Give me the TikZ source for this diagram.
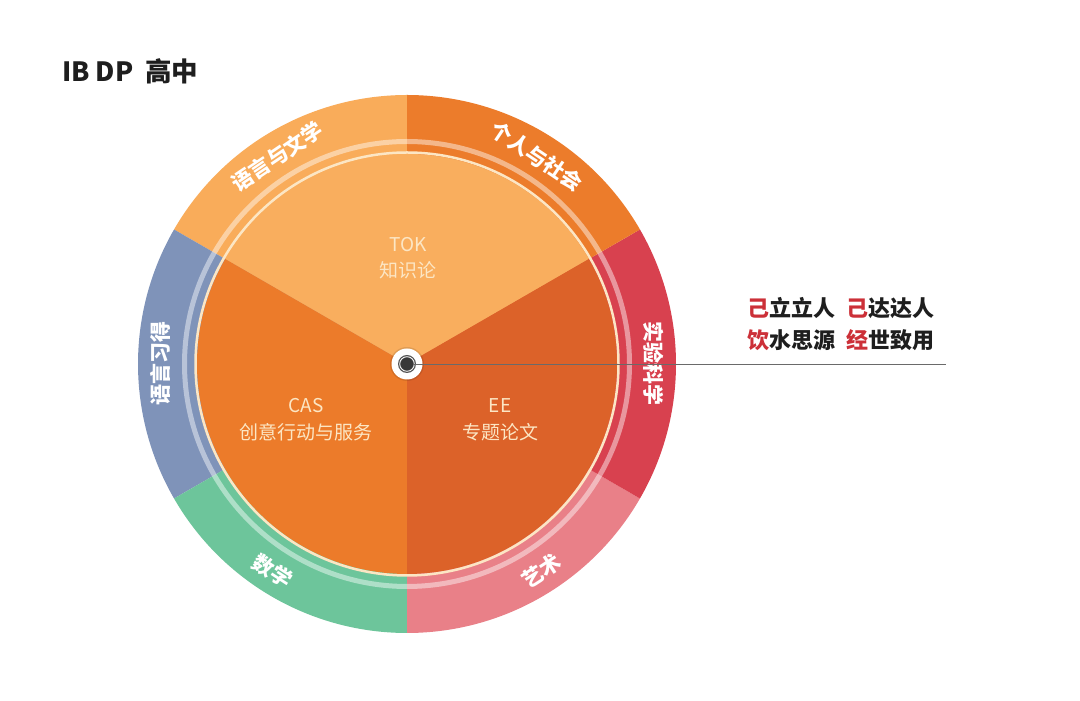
\documentclass[tikz,border=0pt]{standalone}
\usepackage{fontspec}
\setmainfont{Noto Sans CJK SC}
\usetikzlibrary{calc}
\definecolor{cLit}{HTML}{F9AC5A}
\definecolor{cSoc}{HTML}{EC7C2B}
\definecolor{cSci}{HTML}{D8414F}
\definecolor{cArt}{HTML}{E98088}
\definecolor{cMat}{HTML}{6DC59B}
\definecolor{cAcq}{HTML}{7F93B9}
\definecolor{cTOK}{HTML}{F9AE5E}
\definecolor{cCAS}{HTML}{EC7B2A}
\definecolor{cEE}{HTML}{DC6229}
\definecolor{cCream}{HTML}{FCE6C4}
\definecolor{cRed}{HTML}{CC3038}
\definecolor{cInk}{HTML}{1E1E1E}
\definecolor{cLine}{HTML}{6A6A6A}
\tikzset{
  ringlab/.style={text=white, font=\fontsize{21}{24}\selectfont\bfseries, inner sep=0pt},
  corelab/.style={text=cCream, font=\fontsize{19}{23}\selectfont, inner sep=0pt},
  mottolab/.style={text=cInk, font=\fontsize{22}{26}\selectfont\bfseries, inner sep=0pt, anchor=west},
  titlelab/.style={text=cInk, font=\fontsize{26.5}{30}\selectfont\bfseries, inner sep=0pt, anchor=west},
  hubdot/.style={circle, fill=white, minimum size=31pt, inner sep=0pt}
}
\begin{document}
\begin{tikzpicture}[x=1pt,y=1pt]
\useasboundingbox[fill=white] (0,0) rectangle (1080,701);
\coordinate (c) at (407,337);
% outer ring sectors
\fill[cLit] (c) -- ++(90:269) arc[start angle=90,end angle=150,radius=269] -- cycle;
\fill[cAcq] (c) -- ++(150:269) arc[start angle=150,end angle=210,radius=269] -- cycle;
\fill[cMat] (c) -- ++(210:269) arc[start angle=210,end angle=270,radius=269] -- cycle;
\fill[cArt] (c) -- ++(270:269) arc[start angle=270,end angle=330,radius=269] -- cycle;
\fill[cSci] (c) -- ++(330:269) arc[start angle=330,end angle=390,radius=269] -- cycle;
\fill[cSoc] (c) -- ++(30:269) arc[start angle=30,end angle=90,radius=269] -- cycle;
% light band
\draw[white, opacity=0.45, line width=5] (c) circle[radius=222.5];
% inner pie
\fill[cTOK] (c) -- ++(30:210) arc[start angle=30,end angle=150,radius=210] -- cycle;
\fill[cCAS] (c) -- ++(150:210) arc[start angle=150,end angle=270,radius=210] -- cycle;
\fill[cEE] (c) -- ++(270:210) arc[start angle=270,end angle=390,radius=210] -- cycle;
\draw[cCream, line width=2.5] (c) circle[radius=211.5];
% ring labels
\node[ringlab, rotate=34] (lit) at ($(c)+(122:245)$) {语言与文学};
\node[ringlab, rotate=-34] (soc) at ($(c)+(58:245)$) {个人与社会};
\node[ringlab, rotate=-90] (sci) at ($(c)+(0:247)$) {实验科学};
\node[ringlab, rotate=33] (art) at ($(c)+(-57:247)$) {艺术};
\node[ringlab, rotate=-33] (mat) at ($(c)+(-123:247)$) {数学};
\node[ringlab, rotate=90] (acq) at ($(c)+(180:247)$) {语言习得};
% core labels
\node[corelab] (tok1) at (408,701-245) {TOK};
\node[corelab] (tok2) at (408,701-270) {知识论};
\node[corelab] (cas1) at (306,701-406) {CAS};
\node[corelab] (cas2) at (306,701-432) {创意行动与服务};
\node[corelab] (ee1) at (500,701-406) {EE};
\node[corelab] (ee2) at (500,701-432) {专题论文};
% hub
\fill[black, opacity=0.10] (c) circle[radius=17];
\node[hubdot] (hub) at (c) {};
\fill[cLine!80!black] (c) circle[radius=9];
\draw[white, line width=0.8] (c) circle[radius=7.3];
\node[circle, fill=black!78, minimum size=12.5pt, inner sep=0pt] (dot) at (c) {};
\coordinate (lineend) at (946,701-365);
\draw[cLine, line width=0.9] (dot.east) -- (dot.east -| lineend);
% motto
\node[mottolab] (m1) at (747,701-308) {\textcolor{cRed}{己}立立人\hspace{0.5em}\textcolor{cRed}{己}达达人};
\node[mottolab] (m2) at (747,701-340) {\textcolor{cRed}{饮}水思源\hspace{0.5em}\textcolor{cRed}{经}世致用};
% title
\node[titlelab] (title) at (62,701-71) {IB DP\hspace{0.45em}高中};
\end{tikzpicture}
\end{document}
